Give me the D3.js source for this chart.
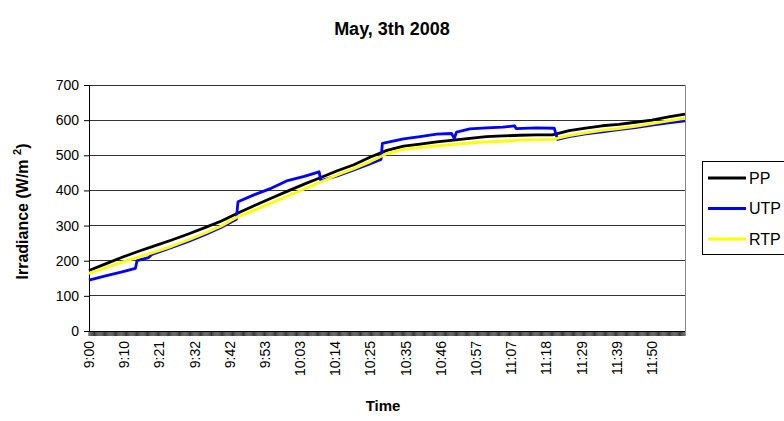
<!DOCTYPE html>
<html>
<head>
<meta charset="utf-8">
<script src="https://cdn.jsdelivr.net/npm/d3@7"></script>
<style>
  body { margin: 0; background: #fff; }
  text { font-family: Arial, "Liberation Sans", sans-serif; }
</style>
</head>
<body>
<script>
// data
const seriesNames = ["PP", "UTP", "RTP"];
const seriesColors = ["#000000", "#0000ff", "#ffff00"];

const gridTimes = ["9:00","9:05","9:10","9:15","9:20","9:25","9:30","9:35","9:40","9:45",
  "9:50","9:55","10:00","10:05","10:10","10:15","10:20","10:25","10:30","10:35",
  "10:40","10:45","10:50","10:55","11:00","11:05","11:10","11:15","11:20","11:25",
  "11:30","11:35","11:40","11:45","11:50","11:55","12:00"];

const ppValues = [172,191,210,227,243,259,276,294,313,336,
  357,378,398,418,437,456,473,495,514,526,
  532,538,543,548,553,555,557,558,558,570,
  577,584,588,594,600,609,617];

const rtpValues = [164,180,196,210,225,241,259,278,299,326,
  344,364,384,404,424,444,462,482,505,517,
  522,527,531,535,538,540,543,544,545,556,
  564,571,576,582,590,598,605];

const utpTimes = ["9:00","9:05","9:10","9:14","9:14:30","9:18","9:19","9:25","9:30","9:35",
  "9:40","9:44:30","9:45","9:50","9:55","10:00","10:05","10:09:30","10:10","10:15",
  "10:20","10:25","10:28:12","10:28:36","10:35","10:40","10:45","10:49:30","10:50:18","10:51",
  "10:55","11:00","11:05","11:08:30","11:09","11:15","11:20:30","11:21:30","11:25","11:30",
  "11:35","11:40","11:45","11:50","11:55","12:00"];

const utpValues = [145,157,168,178,200,209,218,238,255,274,
  295,318,368,388,406,428,440,453,428,441,
  458,476,488,534,547,553,560,562,548,566,
  575,578,580,584,576,578,577,545,553,561,
  567,573,579,586,592,598];

const tickLabels = ["9:00","9:10","9:21","9:32","9:42","9:53","10:03","10:14","10:25",
  "10:35","10:46","10:57","11:07","11:18","11:29","11:39","11:50"];
const yTicks = [0,100,200,300,400,500,600,700];

const w = 784, h = 421;
const m = { top: 85, right: 99, bottom: 90, left: 89 };

function toMin(s) {
  const p = s.split(":").map(Number);
  return (p[0] - 9) * 60 + p[1] + (p[2] || 0) / 60;
}

const svg = d3.select("body").append("svg")
  .attr("width", w).attr("height", h);

const x = d3.scaleLinear().domain([0, 180]).range([m.left, w - m.right]);
const y = d3.scaleLinear().domain([0, 700]).range([h - m.bottom, m.top]);

// title
svg.append("text")
  .attr("x", 392).attr("y", 35)
  .attr("text-anchor", "middle")
  .attr("font-weight", "bold").attr("font-size", 18)
  .text("May, 3th 2008");

// gridlines
svg.append("g").selectAll("line")
  .data(yTicks.slice(1))
  .enter().append("line")
  .attr("x1", x(0)).attr("x2", x(180))
  .attr("y1", d => y(d)).attr("y2", d => y(d))
  .attr("stroke", "#333").attr("stroke-width", 1)
  .attr("shape-rendering", "crispEdges");

// plot border right side
svg.append("line")
  .attr("x1", x(180)).attr("x2", x(180))
  .attr("y1", y(700)).attr("y2", y(0))
  .attr("stroke", "#888").attr("shape-rendering", "crispEdges");

// y axis
const yAxis = d3.axisLeft(y).tickValues(yTicks).tickSize(5).tickPadding(5);
const gy = svg.append("g")
  .attr("transform", "translate(" + m.left + ",0)")
  .call(yAxis);
gy.select(".domain").attr("stroke", "#000");
gy.selectAll("text").attr("font-size", 14).attr("font-family", "Arial, 'Liberation Sans', sans-serif");

// x axis: dense category ticks
const minorTicks = d3.range(0, 180 * 3 + 1).map(i => i / 3);
svg.append("g").selectAll("line")
  .data(minorTicks)
  .enter().append("line")
  .attr("x1", d => x(d)).attr("x2", d => x(d))
  .attr("y1", y(0)).attr("y2", y(0) + 5)
  .attr("stroke", "#000").attr("stroke-width", 0.8);
svg.append("line")
  .attr("x1", x(0)).attr("x2", x(180))
  .attr("y1", y(0)).attr("y2", y(0))
  .attr("stroke", "#000").attr("shape-rendering", "crispEdges");

const labelStep = 170 / (tickLabels.length - 1);
svg.append("g").selectAll("text")
  .data(tickLabels)
  .enter().append("text")
  .attr("transform", (d, i) => "translate(" + (x(i * labelStep) + 5) + "," + (y(0) + 10) + ") rotate(-90)")
  .attr("text-anchor", "end")
  .attr("font-size", 14)
  .text(d => d);

// axis titles
svg.append("text")
  .attr("x", 383).attr("y", 411)
  .attr("text-anchor", "middle")
  .attr("font-weight", "bold").attr("font-size", 15)
  .text("Time");

const yt = svg.append("text")
  .attr("transform", "translate(28," + (y(340)) + ") rotate(-90)")
  .attr("text-anchor", "middle")
  .attr("font-weight", "bold").attr("font-size", 16);
yt.append("tspan").text("Irradiance (W/m ");
yt.append("tspan").attr("font-size", 11).attr("dy", -7).text("2");
yt.append("tspan").attr("dy", 7).text(")");

// series
const line = d3.line().x(d => x(d[0])).y(d => y(d[1]));
const series = [
  gridTimes.map((t, i) => [toMin(t), ppValues[i]]),
  utpTimes.map((t, i) => [toMin(t), utpValues[i]]),
  gridTimes.map((t, i) => [toMin(t), rtpValues[i]])
];

svg.append("g").selectAll("path")
  .data(series)
  .enter().append("path")
  .attr("d", line)
  .attr("fill", "none")
  .attr("stroke", (d, i) => seriesColors[i])
  .attr("stroke-width", 2.8)
  .attr("stroke-linejoin", "round");

// legend
const legend = svg.append("g");
legend.append("rect")
  .attr("x", 702.5).attr("y", 161.5)
  .attr("width", 90).attr("height", 93)
  .attr("fill", "#fff").attr("stroke", "#000");

const items = legend.selectAll("g.item")
  .data(seriesNames)
  .enter().append("g")
  .attr("class", "item")
  .attr("transform", (d, i) => "translate(0," + (178 + i * 30.5) + ")");
items.append("line")
  .attr("x1", 708).attr("x2", 746)
  .attr("stroke", (d, i) => seriesColors[i])
  .attr("stroke-width", 2.8);
items.append("text")
  .attr("x", 749).attr("y", 5.5)
  .attr("font-size", 16)
  .text(d => d);
</script>
</body>
</html>
